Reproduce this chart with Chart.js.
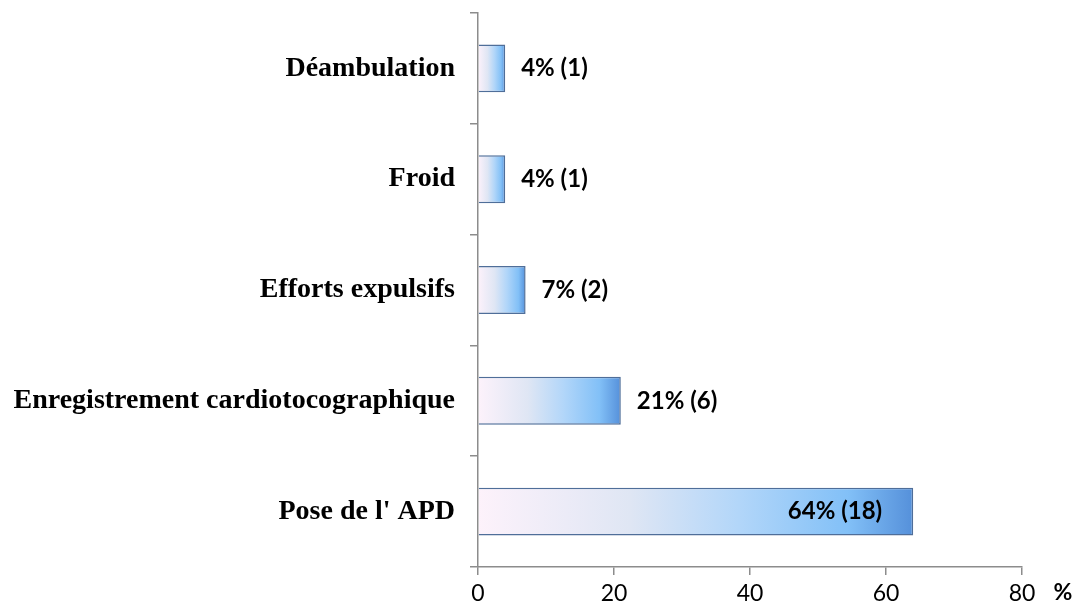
<!DOCTYPE html>
<html>
<head>
<meta charset="utf-8">
<script src="https://cdn.jsdelivr.net/npm/chart.js@4"></script>
<style>
  html, body { margin: 0; padding: 0; background: #fff; }
  #wrap { width: 1083px; height: 615px; }
</style>
</head>
<body>
<div id="wrap"><canvas id="chart" width="1083" height="615"></canvas></div>
<script>
let categories = ["Déambulation", "Froid", "Efforts expulsifs", "Enregistrement cardiotocographique", "Pose de l' APD"];
let percents = [4, 4, 7, 21, 64];
let counts = [1, 1, 2, 6, 18];
let xTicks = [0, 20, 40, 60, 80];

// gradient over the length of each bar
function barGradient(context) {
  let chart = context.chart;
  let x = chart.scales.x;
  if (!x || context.dataIndex === undefined) return "#8cc4f5";
  let v = percents[context.dataIndex];
  let x0 = x.getPixelForValue(0);
  let x1 = x.getPixelForValue(v);
  if (!isFinite(x0) || !isFinite(x1) || x1 <= x0) return "#8cc4f5";
  let g = chart.ctx.createLinearGradient(x0, 0, x1, 0);
  g.addColorStop(0, "#fdf2fb");
  g.addColorStop(0.35, "#dfe6f4");
  g.addColorStop(0.6, "#b2d6f9");
  g.addColorStop(0.85, "#82c0f7");
  g.addColorStop(1, "#5590da");
  return g;
}

let valueLabels = {
  id: "valueLabels",
  afterDatasetsDraw: function (chart) {
    let ctx = chart.ctx;
    let meta = chart.getDatasetMeta(0);
    ctx.save();
    ctx.font = "bold 24px Lato";
    ctx.fillStyle = "#000";
    ctx.textBaseline = "middle";
    meta.data.forEach(function (bar, i) {
      let text = percents[i] + "% (" + counts[i] + ")";
      if (percents[i] > 40) {
        ctx.textAlign = "right";
        ctx.fillText(text, bar.x - 31, bar.y);
      } else {
        ctx.textAlign = "left";
        ctx.fillText(text, bar.x + 16, bar.y);
      }
    });
    ctx.font = "bold 23px Lato";
    ctx.textAlign = "center";
    ctx.fillText("%", 1063, 593);
    ctx.restore();
  }
};

let ctx = document.getElementById("chart").getContext("2d");
let myChart = new Chart(ctx, {
  type: "bar",
  data: {
    labels: categories,
    datasets: [
      {
        data: percents,
        backgroundColor: barGradient,
        borderColor: "#4f6e99",
        borderWidth: 1.5,
        borderSkipped: "start",
        barPercentage: 0.9,
        categoryPercentage: 0.48
      }
    ]
  },
  options: {
    indexAxis: "y",
    responsive: false,
    animation: false,
    layout: { padding: { top: 13, right: 61, left: 0, bottom: 0 } },
    plugins: {
      legend: { display: false },
      tooltip: { enabled: false }
    },
    scales: {
      x: {
        min: 0,
        max: 80,
        afterBuildTicks: function (axis) {
          axis.ticks = xTicks.map(function (v) { return { value: v }; });
        },
        afterFit: function (axis) {
          axis.height = 48;
          axis.paddingLeft = 0;
          axis.paddingRight = 0;
        },
        grid: { drawOnChartArea: false, tickLength: 8, color: "#8c8c8c", lineWidth: 1.5 },
        border: { color: "#8c8c8c", width: 1.5 },
        ticks: { color: "#000", font: { family: "Lato", size: 23 }, padding: 5 }
      },
      y: {
        afterFit: function (axis) {
          axis.width = 478;
          axis.paddingTop = 0;
          axis.paddingBottom = 0;
        },
        grid: { offset: true, drawOnChartArea: false, tickLength: 8, color: "#8c8c8c", lineWidth: 1.5 },
        border: { color: "#8c8c8c", width: 1.5 },
        ticks: { color: "#000", font: { family: "Liberation Serif", size: 28, weight: "bold" }, padding: 15 }
      }
    }
  },
  plugins: [valueLabels]
});
</script>
</body>
</html>
